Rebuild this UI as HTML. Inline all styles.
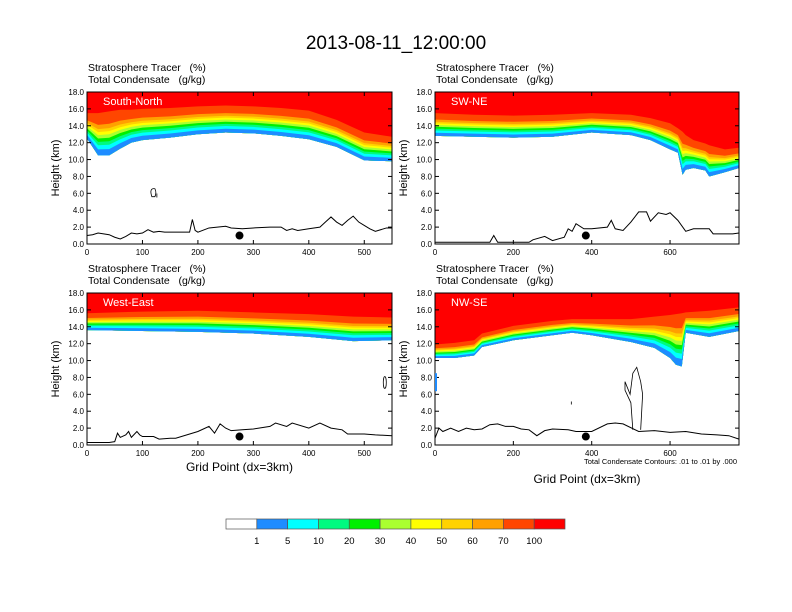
<!DOCTYPE html>
<html><head><meta charset="utf-8">
<style>
body{margin:0;background:#fff;}
svg{display:block;font-family:"Liberation Sans",Arial,sans-serif;}
text{white-space:pre;}
</style></head>
<body>
<svg id="chart" width="792" height="612" viewBox="0 0 792 612" xmlns="http://www.w3.org/2000/svg">
<text x="396" y="49" font-size="19" text-anchor="middle">2013-08-11_12:00:00</text>
<g id="panels"></g>
<g id="colorbar"></g>
</svg>
<script>
// ---- data ----
const levelLabels = ["1","5","10","20","30","40","50","60","70","100"];
const levelColors = ["#ffffff","#1e8cff","#00ffff","#00fa80","#00f000","#aaff30","#ffff00","#ffd200","#ffa000","#ff4600","#ff0000"];
const bandFracs = [0,0.14,0.24,0.32,0.40,0.48,0.55,0.62,0.72,1.0];

const p1X = [0,20,40,60,80,100,150,200,250,300,350,400,450,500,550];
const p1Base = [12.5,10.5,10.5,11.3,12.0,12.3,12.6,13.0,13.2,13.1,12.8,12.4,11.5,9.9,9.8];
const p1Top = [15.5,15.5,15.7,15.9,15.9,16.0,16.1,16.3,16.4,16.3,16.1,15.8,14.7,13.2,12.7];
const p1TerrX = [0,10,20,30,40,50,60,70,80,90,100,110,120,130,140,150,185,190,195,200,220,250,260,280,300,330,350,360,370,380,400,420,430,440,450,460,470,480,490,500,510,520,540,550];
const p1TerrY = [1.0,1.1,1.3,1.2,1.1,0.8,0.6,0.9,1.3,1.2,1.3,1.7,1.4,1.5,1.4,1.4,1.4,2.9,1.6,1.4,1.9,2.1,1.9,1.8,1.9,2.0,2.0,1.6,1.8,1.6,1.8,2.0,2.6,3.2,2.6,2.2,2.8,3.3,2.6,2.2,1.8,1.5,1.9,1.9];

const p2X = [0,100,200,300,400,500,550,600,620,632,640,660,690,700,740,776];
const p2Base = [12.8,12.7,12.6,12.7,13.2,12.9,12.3,11.2,10.8,8.2,8.8,9.0,8.7,8.0,8.5,9.0];
const p2Top = [15.5,15.3,15.2,15.3,15.5,15.3,14.9,14.3,13.7,13.3,12.9,12.3,11.9,11.7,11.2,11.4];
const p2TerrX = [0,140,150,160,240,250,280,300,330,340,350,360,380,400,440,450,460,480,500,520,540,550,570,590,600,620,640,660,700,710,760,776];
const p2TerrY = [0.2,0.2,1.0,0.2,0.2,0.5,0.9,0.4,0.8,1.8,1.5,2.4,1.8,1.8,2.0,2.8,1.8,1.6,2.6,3.8,3.8,2.7,3.7,3.5,3.7,2.8,1.5,1.8,1.8,1.2,1.2,1.3];

const p3X = [0,100,200,300,400,480,550];
const p3Base = [13.6,13.5,13.4,13.2,12.8,12.3,12.4];
const p3Top = [15.6,15.8,15.9,15.7,15.5,15.2,15.1];
const p3TerrX = [0,40,50,55,60,70,75,80,90,95,100,120,130,150,160,200,220,230,240,250,260,280,300,330,340,360,370,400,420,440,460,470,500,520,550];
const p3TerrY = [0.3,0.3,0.4,1.4,0.9,1.2,1.6,0.9,1.6,1.2,1.0,1.0,0.7,0.8,0.8,1.6,2.2,1.4,2.5,2.0,1.7,1.8,1.9,2.2,2.6,2.2,2.6,2.0,2.6,2.0,1.8,1.3,1.3,1.2,1.1];

const p4X = [0,50,100,120,200,300,350,400,500,560,600,615,630,640,700,776];
const p4Base = [10.3,10.3,10.6,11.6,12.4,13.0,13.3,13.0,12.2,11.5,10.3,9.5,9.3,13.3,12.8,13.5];
const p4Top = [11.9,12.1,12.4,13.2,14.1,14.7,14.9,14.9,14.9,15.2,15.4,15.5,15.6,15.7,15.9,16.3];
const p4TerrX = [0,10,20,40,60,80,100,120,140,160,180,200,220,240,260,280,300,340,360,400,440,460,480,520,560,600,640,680,720,750,776];
const p4TerrY = [0.8,2.0,1.6,2.0,1.6,2.0,1.8,1.9,2.4,2.5,2.2,2.2,1.9,1.8,1.1,1.7,1.9,1.8,1.6,1.6,2.5,2.6,2.5,1.6,1.7,1.5,1.6,1.3,1.2,1.1,0.7];

const panels = [
 {id:"south-north",label:"South-North",x0:87,x1:392,y0:92,y1:244,xmax:550,xt:[0,100,200,300,400,500],X:p1X,B:p1Base,T:p1Top,TX:p1TerrX,TY:p1TerrY,dot:275,xlab:false},
 {id:"sw-ne",label:"SW-NE",x0:435,x1:739,y0:92,y1:244,xmax:776,xt:[0,200,400,600],X:p2X,B:p2Base,T:p2Top,TX:p2TerrX,TY:p2TerrY,dot:385,xlab:false},
 {id:"west-east",label:"West-East",x0:87,x1:392,y0:293,y1:445,xmax:550,xt:[0,100,200,300,400,500],X:p3X,B:p3Base,T:p3Top,TX:p3TerrX,TY:p3TerrY,dot:275,xlab:true},
 {id:"nw-se",label:"NW-SE",x0:435,x1:739,y0:293,y1:445,xmax:776,xt:[0,200,400,600],X:p4X,B:p4Base,T:p4Top,TX:p4TerrX,TY:p4TerrY,dot:385,xlab:true}
];
const yTicks = [0,2,4,6,8,10,12,14,16,18];

const NS="http://www.w3.org/2000/svg";
function mk(tag,attrs,parent){const e=document.createElementNS(NS,tag);for(const k in attrs)e.setAttribute(k,attrs[k]);parent.appendChild(e);return e;}
const root=document.getElementById("panels");

panels.forEach(p=>{
  const g=mk("g",{},root);
  
  
  const sx=v=>p.x0+(p.x1-p.x0)*v/p.xmax;
  const sy=v=>p.y1-(p.y1-p.y0)*v/18;
  const h1=mk("text",{x:p.x0+1,y:p.y0-21,"font-size":"10.5"},g);h1.textContent="Stratosphere Tracer   (%)";
  
  
  const h2=mk("text",{x:p.x0+1,y:p.y0-9,"font-size":"10.5"},g);h2.textContent="Total Condensate   (g/kg)";
  
  
  let redPts=`${sx(0)},${sy(18)} ${sx(p.xmax)},${sy(18)} `;
  for(let i=p.X.length-1;i>=0;i--) redPts+=`${sx(p.X[i])},${sy(p.B[i])} `;
  const red=mk("polygon",{points:redPts,fill:levelColors[10]},g);
  
  
  for(let k=bandFracs.length-1;k>=0;k--){
    const f=bandFracs[k];
    if(f===0) continue;
    let pts="";
    for(let i=0;i<p.X.length;i++) pts+=`${sx(p.X[i])},${sy(p.B[i]+(p.T[i]-p.B[i])*f)} `;
    for(let i=p.X.length-1;i>=0;i--) pts+=`${sx(p.X[i])},${sy(p.B[i])} `;
    const b=mk("polygon",{points:pts,fill:levelColors[k]},g);
    
    
  }
  let tp="";
  for(let i=0;i<p.TX.length;i++) tp+=`${sx(p.TX[i])},${sy(p.TY[i])} `;
  const tl=mk("polyline",{points:tp,fill:"none",stroke:"#000","stroke-width":"1"},g);
  
  
  const dot=mk("circle",{cx:sx(p.dot),cy:sy(1.0),r:4,fill:"#000"},g);
  
  
  const fr=mk("rect",{x:p.x0,y:p.y0,width:p.x1-p.x0,height:p.y1-p.y0,fill:"none",stroke:"#000","stroke-width":"1"},g);
  
  
  const lb=mk("text",{x:p.x0+16,y:p.y0+13,"font-size":"11",fill:"#fff"},g);lb.textContent=p.label;
  
  
  yTicks.forEach(v=>{
    mk("line",{x1:p.x0,x2:p.x0+4,y1:sy(v),y2:sy(v),stroke:"#000"},g);
    mk("line",{x1:p.x1,x2:p.x1-4,y1:sy(v),y2:sy(v),stroke:"#000"},g);
    const t=mk("text",{x:p.x0-3,y:sy(v)+3,"font-size":"8","text-anchor":"end"},g);t.textContent=v.toFixed(1);
    
    
  });
  p.xt.forEach(v=>{
    mk("line",{x1:sx(v),x2:sx(v),y1:p.y1,y2:p.y1-4,stroke:"#000"},g);
    mk("line",{x1:sx(v),x2:sx(v),y1:p.y0,y2:p.y0+4,stroke:"#000"},g);
    const t=mk("text",{x:sx(v),y:p.y1+11,"font-size":"8","text-anchor":"middle"},g);t.textContent=v;
    
    
  });
  const yt=mk("text",{x:0,y:0,"font-size":"11","text-anchor":"middle",transform:`translate(${p.x0-28},${(p.y0+p.y1)/2}) rotate(-90)`},g);yt.textContent="Height (km)";
  
  
  if(p.xlab){
    const xt=mk("text",{x:(p.x0+p.x1)/2,y:p.id==="nw-se"?483:471,"font-size":"12","text-anchor":"middle"},g);xt.textContent="Grid Point (dx=3km)";
    
    
  }
  if(p.id==="south-north"){
    const c=mk("path",{d:`M${sx(117)},${sy(5.6)} q-3,-9 3,-8 q2,4 0,8 z M${sx(126)},${sy(5.5)} l0,-4`,fill:"none",stroke:"#000","stroke-width":"0.8"},g);
    
    
  }
  if(p.id==="west-east"){
    const c=mk("ellipse",{cx:sx(537),cy:sy(7.4),rx:1.5,ry:6,fill:"none",stroke:"#000","stroke-width":"0.8"},g);
    
    
  }
  if(p.id==="nw-se"){
    const c=mk("path",{d:`M${sx(505)},${sy(1.8)} L${sx(500)},${sy(5)} L${sx(485)},${sy(6.5)} L${sx(485)},${sy(7.5)} L${sx(498)},${sy(6)} L${sx(505)},${sy(8.5)} L${sx(515)},${sy(9.2)} L${sx(525)},${sy(7.5)} L${sx(530)},${sy(6)} L${sx(525)},${sy(1.8)} M${sx(348)},${sy(4.8)} l0,-3`,fill:"none",stroke:"#000","stroke-width":"0.8"},g);
    
    
    const l=mk("rect",{x:p.x0,y:sy(8.5),width:2,height:18,fill:"#1e8cff"},g);
    
    
    const n=mk("text",{x:p.x1-2,y:p.y1+19,"font-size":"7.5","text-anchor":"end"},g);n.textContent="Total Condensate Contours: .01 to .01 by .000";
    
    
  }
});

const cb=document.getElementById("colorbar");
const cbx0=226,cbx1=565,cby=519,cbh=10,bw=(cbx1-cbx0)/levelColors.length;
levelColors.forEach((c,i)=>{
  const r=mk("rect",{x:cbx0+i*bw,y:cby,width:bw,height:cbh,fill:c,stroke:"#555","stroke-width":"0.7"},cb);
  
  
});
levelLabels.forEach((l,i)=>{
  const t=mk("text",{x:cbx0+(i+1)*bw,y:cby+cbh+15,"font-size":"9.5","text-anchor":"middle"},cb);t.textContent=l;
  
  
});
</script>
</body></html>
